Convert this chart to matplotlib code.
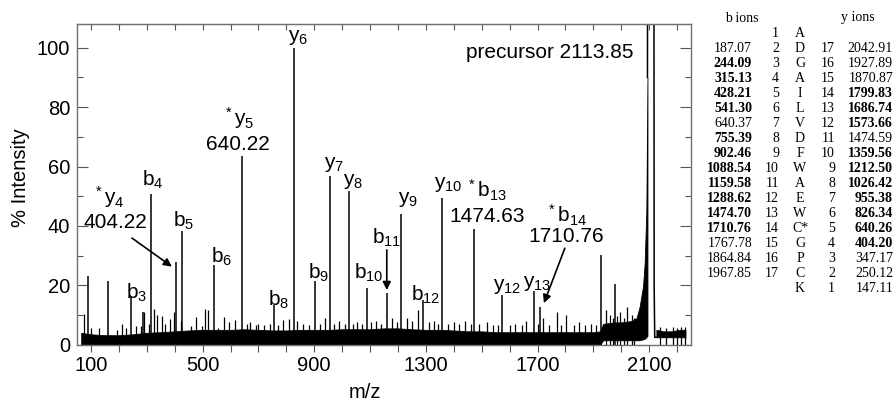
import numpy as np
import matplotlib
matplotlib.use("Agg")
import matplotlib.pyplot as plt

plt.rcParams['font.family'] = ['Liberation Sans', 'DejaVu Sans']
plt.rcParams['mathtext.fontset'] = 'custom'
plt.rcParams['mathtext.rm'] = 'Liberation Sans'
plt.rcParams['mathtext.it'] = 'Liberation Sans'

# fragment peaks (m/z, % intensity)
peak_mz = [88, 161, 244, 286, 315, 404, 428, 541, 640, 755, 826, 902, 955, 1026,
           1088, 1159, 1212, 1289, 1359, 1474, 1573, 1686, 1710, 1927, 1977]
peak_int = [23.2, 21.5, 16.5, 11, 50.8, 28, 38.4, 27, 63.4, 13.5, 100, 21.5, 56.7, 51.6,
            19, 17.3, 44, 15, 49.4, 38.9, 16.8, 18.1, 12.8, 30.3, 20.5]

# small noise spikes above the baseline
spike_mz = [75, 99, 129, 194, 211, 224, 260, 278, 290, 308, 325, 337, 355, 367, 385,
            398, 421, 457, 475, 497, 509, 521, 557, 576, 595, 617, 660, 670, 690, 700,
            720, 740, 770, 789, 808, 840, 860, 880, 920, 939, 970, 990, 1010, 1040,
            1052, 1070, 1105, 1120, 1140, 1180, 1195, 1232, 1250, 1273, 1310, 1330,
            1345, 1380, 1400, 1420, 1440, 1460, 1490, 1520, 1540, 1560, 1600, 1620,
            1645, 1660, 1700, 1720, 1740, 1769, 1785, 1802, 1830, 1850, 1870, 1890,
            1910, 1947, 1959, 1970, 1985, 1995, 2010, 2021, 2037, 2045, 2140, 2160,
            2185, 2200, 2215, 2228]
spike_int = [10.5, 5.6, 5.6, 5, 7, 5.6, 6.2, 6.4, 11, 7, 12, 10, 9.7, 7, 8.5,
             11, 7.9, 6.4, 9.4, 6.4, 12, 11.6, 5.6, 9.4, 7.5, 8.3, 7, 7.5, 6.5, 7,
             6.5, 7, 6.5, 8.3, 8.5, 8, 7, 6.5, 7, 8.9, 7, 8, 7, 7,
             7.8, 7, 7.5, 8, 7, 9, 7.5, 9, 8, 11.7, 7.5, 8,
             7, 7, 7.5, 7, 8, 7, 7, 7.5, 6.5, 6.5, 6.5, 7,
             6.5, 8, 7, 9, 6.5, 11.1, 6.5, 10, 6.5, 7.5, 6.5, 7,
             6.5, 11.7, 10, 9, 9.5, 11, 9, 12.8, 10, 9, 6, 5.5,
             6, 5.5, 6, 6]

# dense baseline noise band (upper / lower edge), incl. rising flank of precursor
base_mz = [65, 100, 150, 200, 250, 300, 350, 400, 450, 500, 550, 600, 650, 700, 750,
           800, 850, 900, 950, 1000, 1050, 1100, 1150, 1200, 1250, 1300, 1350, 1400,
           1450, 1500, 1550, 1600, 1650, 1700, 1750, 1800, 1850, 1900, 1925, 1935,
           1975, 2000, 2040, 2055, 2066, 2078, 2084, 2090, 2094]
base_hi = [4, 3.5, 3.2, 3.2, 3.5, 4, 4.2, 4.5, 4.8, 5, 5, 5, 5.2, 5, 4.8,
           4.8, 5, 5, 5, 5.2, 5.2, 5.2, 5.5, 5.5, 5.2, 5, 5, 4.8,
           4.5, 4.5, 4.2, 4.2, 4.2, 4.2, 4.2, 4.2, 4.2, 4.2, 4.5, 7,
           7.5, 7.5, 8, 9, 12.8, 19.6, 27.5, 45, 90]
base_lo = [0, 0, 0, 0, 0, 0, 0, 0, 0, 0, 0, 0, 0, 0, 0,
           0, 0, 0, 0, 0, 0, 0, 0, 0, 0, 0, 0, 0,
           0, 0, 0, 0, 0, 0, 0, 0, 0, 0, 0, 1.5,
           1.5, 1.5, 1.5, 1.5, 1.5, 1.8, 2, 2.5, 3]

# precursor outline (saturated) and trailing baseline
prec_mz = [2094, 2097, 2116, 2118, 2120, 2126]
prec_int = [90, 300, 300, 20, 2.5, 2.5]
tail_mz = [2126, 2150, 2180, 2210, 2230]
tail_hi = [5, 4.5, 4.5, 5, 5]
tail_lo = [2.5, 2.5, 2.5, 2.5, 2.5]

# annotations: text, m/z, intensity of label centre
labels = [
    (r'$\mathrm{b_3}$', 265, 17.3), (r'$\mathrm{b_4}$', 322, 55.5),
    (r'$\mathrm{b_5}$', 432, 41.8), (r'$\mathrm{b_6}$', 567, 29.7),
    (r'$\mathrm{b_8}$', 772, 15.1), (r'$\mathrm{y_6}$', 841, 103.3),
    (r'$\mathrm{b_9}$', 915, 24.1), (r'$\mathrm{y_7}$', 972, 60.6),
    (r'$\mathrm{y_8}$', 1040, 55), (r'$\mathrm{b_{10}}$', 1094, 24.1),
    (r'$\mathrm{b_{11}}$', 1160, 35.9), (r'$\mathrm{y_9}$', 1237, 48.8),
    (r'$\mathrm{b_{12}}$', 1300, 16.8), (r'$\mathrm{y_{10}}$', 1380, 53.9),
    (r'$\mathrm{y_{12}}$', 1590, 19.6), (r'$\mathrm{y_{13}}$', 1697, 20.7),
    (r'$\mathrm{^*y_4}$', 163, 49.6), ('404.22', 187, 41.2),
    (r'$\mathrm{^*y_5}$', 630, 76.3), ('640.22', 628, 67.5),
    (r'$\mathrm{^*b_{13}}$', 1518, 51.8), ('1474.63', 1518, 43.2),
    (r'$\mathrm{^*b_{14}}$', 1804, 43.4), ('1710.76', 1804, 36.6),
    ('precursor 2113.85', 1745, 98.3),
]
arrows = [((247, 35.9), (390, 26.3)), ((1160, 31.9), (1160, 18.4)),
          ((1798, 32.5), (1723, 14.0))]

# fragment table
residues = ['A', 'D', 'G', 'A', 'I', 'L', 'V', 'D', 'F', 'W', 'A', 'E', 'W', 'C*',
            'G', 'P', 'C', 'K']
b_ions = ['', '187.07', '244.09', '315.13', '428.21', '541.30', '640.37', '755.39',
          '902.46', '1088.54', '1159.58', '1288.62', '1474.70', '1710.76', '1767.78',
          '1864.84', '1967.85', '']
b_bold = [0, 0, 1, 1, 1, 1, 0, 1, 1, 1, 1, 1, 1, 1, 0, 0, 0, 0]
y_ions = ['', '2042.91', '1927.89', '1870.87', '1799.83', '1686.74', '1573.66',
          '1474.59', '1359.56', '1212.50', '1026.42', '955.38', '826.34', '640.26',
          '404.20', '347.17', '250.12', '147.11']
y_bold = [0, 0, 0, 0, 1, 1, 1, 0, 1, 1, 1, 1, 1, 1, 1, 0, 0, 0]

W, H = 896, 404
fig = plt.figure(figsize=(W / 100, H / 100), dpi=100)
ax = fig.add_axes([77 / W, 1 - 344.7 / H, 614 / W, 320.7 / H])

ax.fill_between(base_mz, base_lo, base_hi, color='k', lw=0.6)
ax.fill_between(tail_mz, tail_lo, tail_hi, color='k', lw=0.6)
ax.vlines(spike_mz, 0, spike_int, color='k', lw=0.9)
ax.vlines(peak_mz, 0, peak_int, color='k', lw=1.1)
ax.plot(prec_mz, prec_int, color='k', lw=1.1)

for txt, x, y in labels:
    ax.text(x, y, txt, ha='center', va='center', fontsize=15)
for (x0, y0), (x1, y1) in arrows:
    ax.annotate('', xy=(x1, y1), xytext=(x0, y0),
                arrowprops=dict(arrowstyle='-|>', color='k', lw=1.2, mutation_scale=12,
                                shrinkA=0, shrinkB=0))

ax.set_xlim(50, 2250)
ax.set_ylim(0, 108)
ax.set_xticks([100, 500, 900, 1300, 1700, 2100])
ax.set_xticks(np.arange(100, 2250, 100), minor=True)
ax.set_yticks([0, 20, 40, 60, 80, 100])
ax.set_yticks(np.arange(10, 108, 20), minor=True)
ax.tick_params(axis='x', which='both', direction='out', length=5, width=0.8,
               labelsize=14.5, pad=3, color='#555')
ax.tick_params(axis='y', which='major', direction='in', length=8, width=0.8,
               labelsize=14.5, pad=5, left=True, right=True, color='#555')
ax.tick_params(axis='y', which='minor', direction='in', length=4, width=0.8,
               left=True, right=True, color='#555')
top = ax.secondary_xaxis('top')
top.set_xticks(np.arange(100, 2250, 100))
top.tick_params(direction='in', length=4, width=0.8, labeltop=False, color='#555')
top.spines['top'].set_color('#707070')
for s in ax.spines.values():
    s.set_color('#707070')
    s.set_linewidth(1.0)

ax.set_xlabel('m/z', fontsize=14.5)
ax.set_ylabel('% Intensity', fontsize=14.5)
ax.xaxis.set_label_coords((365 - 77) / 614, -(392 - 344.7) / 320.7)
ax.yaxis.set_label_coords((20 - 77) / 614, (344.7 - 177.5) / 320.7)
ax.xaxis.label.set_va('center')
ax.yaxis.label.set_va('center')

# table drawn in figure pixel coordinates
serif = ['Liberation Serif', 'DejaVu Serif']
def ftext(x, y, s, ha, bold=False):
    fig.text(x / W, 1 - y / H, s, ha=ha, va='center', fontsize=10, family=serif,
             fontweight='bold' if bold else 'normal')

ftext(742, 18, 'b ions', 'center')
ftext(858, 18, 'y ions', 'center')
for i, res in enumerate(residues):
    y = 33.5 + i * 15.0
    ftext(800, y, res, 'center')
    if i < 17:
        ftext(779, y, str(i + 1), 'right')
    if i > 0:
        ftext(835, y, str(18 - i), 'right')
    if b_ions[i]:
        ftext(752, y, b_ions[i], 'right', b_bold[i])
    if y_ions[i]:
        ftext(893, y, y_ions[i], 'right', y_bold[i])

fig.savefig('out.png', dpi=100)
